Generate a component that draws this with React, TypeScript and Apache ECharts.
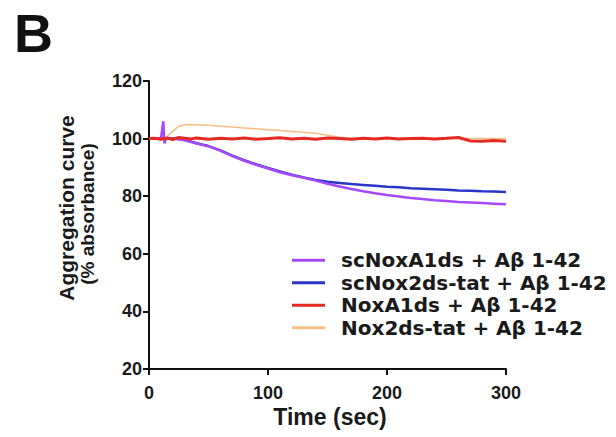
import React, { useEffect, useRef } from "react";
import * as echarts from "echarts";

const time = [0, 5, 10, 12, 13, 14, 15, 20, 25, 30, 35, 40, 50, 60, 70, 80, 90, 100, 110, 120, 130, 140, 150, 160, 170, 180, 190, 200, 210, 220, 230, 240, 250, 260, 270, 280, 290, 300];

const scNoxA1ds = [100, 100, 99.9, 106, 98.3, 99.8, 100, 100, 99.8, 99.4, 98.9, 98.3, 97.3, 95.8, 93.9, 92.3, 90.9, 89.6, 88.3, 87.3, 86.4, 85.4, 84.3, 83.4, 82.5, 81.7, 81.0, 80.4, 79.9, 79.4, 79.0, 78.6, 78.3, 78.0, 77.8, 77.6, 77.4, 77.2];
const scNox2dsTat = [100, 100.1, 100, 100, 99.9, 100, 100.1, 100, 99.9, 99.5, 99.0, 98.4, 97.4, 95.9, 94.1, 92.5, 91.1, 89.8, 88.6, 87.5, 86.5, 85.6, 85.0, 84.6, 84.2, 83.9, 83.6, 83.3, 83.1, 82.8, 82.6, 82.4, 82.2, 82.0, 81.9, 81.7, 81.6, 81.5];
const noxA1ds = [100, 100.1, 99.8, 100, 99.9, 100, 100.2, 99.7, 100.4, 100.1, 99.9, 100.2, 99.8, 100.1, 99.9, 100.2, 99.8, 100, 100.3, 99.9, 100.1, 99.8, 100.2, 100, 99.8, 100.1, 99.9, 100.2, 99.9, 100, 100.1, 99.9, 100.1, 100.4, 99.2, 99.1, 99.3, 99.1];
const nox2dsTat = [100, 100, 100, 100, 100.1, 100.2, 100.6, 102.5, 104.3, 104.8, 104.9, 104.8, 104.6, 104.3, 104.0, 103.7, 103.4, 103.1, 102.8, 102.5, 102.2, 101.9, 101.2, 100.5, 100.1, 100, 100, 100, 100, 100, 100, 100, 100, 100, 100, 100, 100, 100];

const seriesNames = [
  "scNoxA1ds + Aβ 1-42",
  "scNox2ds-tat + Aβ 1-42",
  "NoxA1ds + Aβ 1-42",
  "Nox2ds-tat + Aβ 1-42",
];
const seriesColors = ["#a648fb", "#2a36c8", "#e52a22", "#f6be84"];
const seriesValues = [scNoxA1ds, scNox2dsTat, noxA1ds, nox2dsTat];
const seriesWidths = [2.5, 2.5, 3, 1.5];
const seriesZ = [4, 3, 5, 1];

const yTicks = [20, 40, 60, 80, 100, 120];
const xTicks = [0, 100, 200, 300];

const FONT = "'Liberation Sans', Arial, sans-serif";
const WIDE = "'DejaVu Sans', sans-serif";

export default function App() {
  const ref = useRef<HTMLDivElement>(null);
  useEffect(() => {
    if (!ref.current) return;
    const chart = echarts.init(ref.current, undefined, { renderer: "svg" });
    const series = seriesNames.map((name, i) => ({
      name,
      type: "line",
      data: time.map((t, k) => [t, seriesValues[i][k]]),
      showSymbol: false,
      symbol: "none",
      z: seriesZ[i],
      lineStyle: { color: seriesColors[i], width: seriesWidths[i] },
      itemStyle: { color: seriesColors[i] },
    }));
    chart.setOption({
      animation: false,
      backgroundColor: "#ffffff",
      textStyle: { fontFamily: FONT },
      grid: { left: 149, right: 110, top: 81, bottom: 68 },
      legend: {
        orient: "vertical",
        left: 287,
        top: 244,
        icon: "rect",
        itemWidth: 33,
        itemHeight: 3,
        itemGap: 0,
        data: seriesNames,
        textStyle: {
          fontFamily: WIDE,
          fontWeight: "bold",
          fontSize: 20,
          color: "#1a1a1a",
          lineHeight: 22.5,
          padding: [0, 0, 0, 11],
        },
      },
      xAxis: {
        type: "value",
        min: 0,
        max: 300,
        interval: 100,
        axisLine: { onZero: false, lineStyle: { color: "#111", width: 2 } },
        axisTick: { show: true, length: 6, lineStyle: { color: "#111", width: 2 } },
        axisLabel: {
          margin: 15,
          fontFamily: FONT,
          fontWeight: "bold",
          fontSize: 18,
          color: "#1a1a1a",
          formatter: (v: number) => (xTicks.includes(v) ? String(v) : ""),
        },
        splitLine: { show: false },
      },
      yAxis: {
        type: "value",
        min: 20,
        max: 120,
        interval: 20,
        axisLine: { show: true, onZero: false, lineStyle: { color: "#111", width: 2 } },
        axisTick: { show: true, length: 6, lineStyle: { color: "#111", width: 2 } },
        axisLabel: {
          margin: 7,
          fontFamily: FONT,
          fontWeight: "bold",
          fontSize: 18,
          color: "#1a1a1a",
          formatter: (v: number) => (yTicks.includes(v) ? String(v) : ""),
        },
        splitLine: { show: false },
      },
      graphic: [
        {
          type: "text",
          left: 14,
          top: 6,
          style: { text: "B", font: `bold 54px ${FONT}`, fill: "#111" },
        },
        {
          type: "text",
          x: 66,
          y: 208,
          rotation: Math.PI / 2,
          style: {
            text: "Aggregation curve",
            font: `bold 21px ${FONT}`,
            fill: "#1a1a1a",
            align: "center",
            verticalAlign: "middle",
          },
        },
        {
          type: "text",
          x: 87,
          y: 214,
          rotation: Math.PI / 2,
          style: {
            text: "(% absorbance)",
            font: `bold 19px ${FONT}`,
            fill: "#1a1a1a",
            align: "center",
            verticalAlign: "middle",
          },
        },
        {
          type: "text",
          x: 330,
          y: 417,
          style: {
            text: "Time (sec)",
            font: `bold 23px ${FONT}`,
            fill: "#1a1a1a",
            align: "center",
            verticalAlign: "middle",
          },
        },
      ],
      series,
    });
    return () => chart.dispose();
  }, []);
  return <div ref={ref} style={{ width: 616, height: 437, position: "fixed", left: 0, top: 0 }} />;
}
